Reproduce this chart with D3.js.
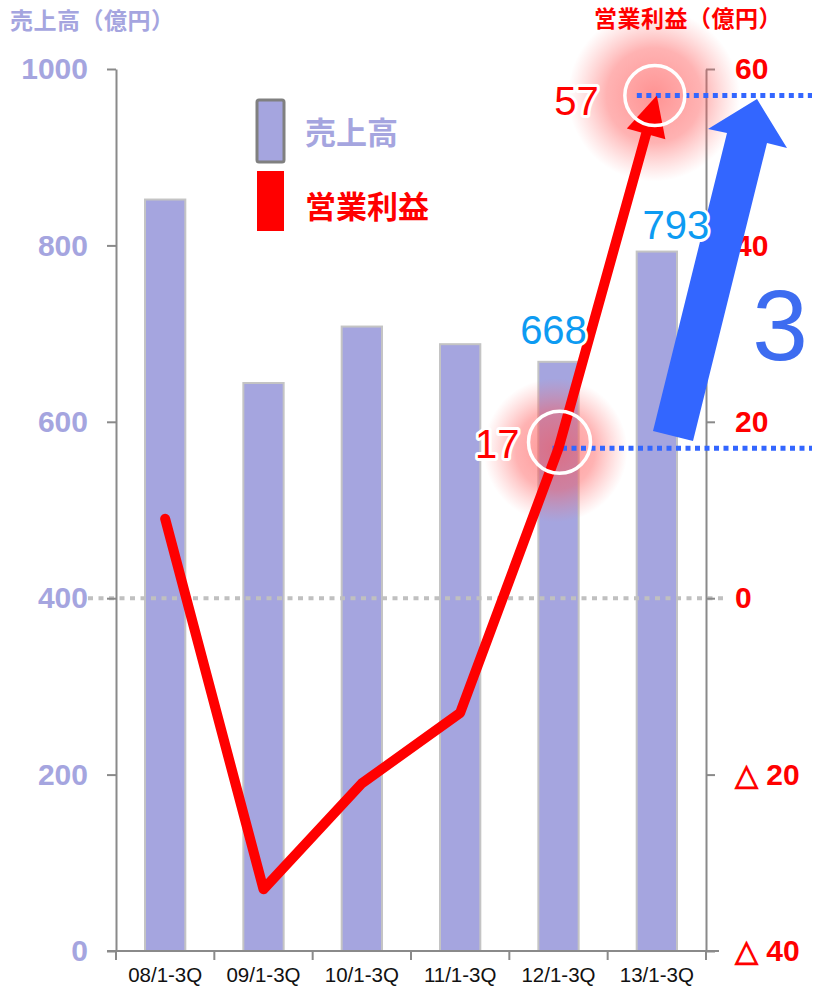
<!DOCTYPE html>
<html>
<head>
<meta charset="utf-8">
<script src="https://cdn.jsdelivr.net/npm/d3@7"></script>
<style>
  body { margin: 0; background: #fff; }
  svg { display: block; }
  .jp { font-family: "Noto Sans CJK JP", "Noto Sans", sans-serif; font-weight: 700; }
  .num { font-family: "Liberation Sans", Arial, sans-serif; }
</style>
</head>
<body>
<div id="chart"></div>
<script>
// data
var periods = ["08/1-3Q", "09/1-3Q", "10/1-3Q", "11/1-3Q", "12/1-3Q", "13/1-3Q"];
var sales = [852, 644, 708, 688, 668, 793];   // 売上高 (億円)
var profit = [9, -33, -21, -13, 17, 57];        // 営業利益 (億円)
var salesTicks = [0, 200, 400, 600, 800, 1000];
var profitTicks = [-40, -20, 0, 20, 40, 60];

var W = 815, H = 989;
var lavender = "#a5a5df", red = "#ff0000", blue = "#3366ff", skyblue = "#0d9bf2";

var svg = d3.select("#chart").append("svg").attr("width", W).attr("height", H);

var x = d3.scaleBand().domain(periods).range([116, 706]);
var yL = d3.scaleLinear().domain([0, 1000]).range([951, 69]);
var yR = d3.scaleLinear().domain([-40, 60]).range([951, 69]);
var barW = x.bandwidth() * 0.41;
var cx = function(p){ return x(p) + x.bandwidth() / 2; };

var defs = svg.append("defs");
var grad = defs.append("radialGradient").attr("id", "glow");
grad.append("stop").attr("offset", "0%").attr("stop-color", "#ff4a4a").attr("stop-opacity", 0.6);
grad.append("stop").attr("offset", "55%").attr("stop-color", "#ff5555").attr("stop-opacity", 0.45);
grad.append("stop").attr("offset", "100%").attr("stop-color", "#ff7070").attr("stop-opacity", 0);

// bars
svg.selectAll("rect.bar").data(sales).enter().append("rect")
  .attr("class", "bar")
  .attr("x", function(d, i){ return cx(periods[i]) - barW / 2; })
  .attr("y", function(d){ return yL(d); })
  .attr("width", barW)
  .attr("height", function(d){ return yL(0) - yL(d); })
  .attr("fill", lavender)
  .attr("stroke", "#c4c4c4")
  .attr("stroke-width", 2);

// zero line of profit axis (dotted grey)
svg.append("line")
  .attr("x1", 88).attr("x2", 728)
  .attr("y1", yR(0)).attr("y2", yR(0))
  .attr("stroke", "#c0c0c0").attr("stroke-width", 4)
  .attr("stroke-dasharray", "5 5.5");

// axes
var axL = svg.append("g").attr("transform", "translate(116,0)")
  .call(d3.axisLeft(yL).tickValues(salesTicks).tickSize(9).tickSizeOuter(0).tickPadding(19)
    .tickFormat(d3.format("d")));
axL.selectAll("text").attr("class", "num").style("font-size", "30px").style("font-weight", "700").attr("fill", lavender);

var axR = svg.append("g").attr("transform", "translate(706,0)")
  .call(d3.axisRight(yR).tickValues(profitTicks).tickSize(9).tickSizeOuter(0).tickPadding(20)
    .tickFormat(function(v){ return v < 0 ? "△ " + (-v) : v; }));
axR.selectAll("text").attr("class", "num").style("font-size", "30px").style("font-weight", "700").attr("fill", red);

var axB = svg.append("g").attr("transform", "translate(0,951)")
  .call(d3.axisBottom(x).tickSize(0).tickPadding(16));
axB.selectAll("text").attr("class", "num").style("font-size", "20.5px").attr("fill", "#111");
axB.select(".domain").remove();
svg.append("line").attr("x1", 107).attr("x2", 719).attr("y1", 951).attr("y2", 951)
  .attr("stroke", "#8a8a8a").attr("stroke-width", 2);
svg.selectAll("line.btick").data(periods.concat(["end"])).enter().append("line")
  .attr("class", "btick")
  .attr("x1", function(d, i){ return i < periods.length ? x(d) : x(periods[i - 1]) + x.bandwidth(); })
  .attr("x2", function(d, i){ return i < periods.length ? x(d) : x(periods[i - 1]) + x.bandwidth(); })
  .attr("y1", 951).attr("y2", 960)
  .attr("stroke", "#8a8a8a").attr("stroke-width", 2);

[axL, axR].forEach(function(a){
  a.selectAll(".domain").attr("stroke", "#8a8a8a").attr("stroke-width", 2);
  a.selectAll(".tick line").attr("stroke", "#8a8a8a").attr("stroke-width", 2);
});

// glows at 12 and 13
var glowPts = [[4, 72, 2], [5, 86, 0]];
svg.selectAll("circle.glow").data(glowPts).enter().append("circle")
  .attr("class", "glow")
  .attr("cx", function(d){ return cx(periods[d[0]]) - 3; })
  .attr("cy", function(d){ return yR(profit[d[0]]) + d[2]; })
  .attr("r", function(d){ return d[1]; })
  .attr("fill", "url(#glow)");

// blue dotted reference lines
svg.selectAll("line.ref").data([4, 5]).enter().append("line")
  .attr("class", "ref")
  .attr("x1", function(i){ return cx(periods[i]) - 6 + (i === 5 ? -14 : 0); })
  .attr("x2", 812)
  .attr("y1", function(i){ return yR(profit[i]); })
  .attr("y2", function(i){ return yR(profit[i]); })
  .attr("stroke", blue).attr("stroke-width", 5)
  .attr("stroke-dasharray", "5 4.5");

// profit line with arrow head at the end
var pts = profit.map(function(v, i){ return [cx(periods[i]), yR(v)]; });
var tip = pts[pts.length - 1], prev = pts[pts.length - 2];
var dx = tip[0] - prev[0], dy = tip[1] - prev[1], len = Math.sqrt(dx * dx + dy * dy);
var ux = dx / len, uy = dy / len;
var headL = 40, headW = 20;
var base = [tip[0] - ux * headL, tip[1] - uy * headL];
var linePts = pts.slice(0, -1).concat([[base[0] + ux * 4, base[1] + uy * 4]]);

svg.append("path")
  .attr("d", d3.line()(linePts))
  .attr("fill", "none").attr("stroke", red).attr("stroke-width", 10)
  .attr("stroke-linecap", "round").attr("stroke-linejoin", "round");
svg.append("path")
  .attr("d", "M" + tip + "L" + [base[0] - uy * headW, base[1] + ux * headW] +
             "L" + [base[0] + uy * headW, base[1] - ux * headW] + "Z")
  .attr("fill", red);

// white rings
svg.selectAll("circle.ring").data([4, 5]).enter().append("circle")
  .attr("class", "ring")
  .attr("cx", function(i){ return cx(periods[i]) + (i === 4 ? 1 : -2); })
  .attr("cy", function(i){ return yR(profit[i]) - (i === 4 ? 6 : 0); })
  .attr("r", function(i){ return i === 4 ? 31 : 30; })
  .attr("fill", "none").attr("stroke", "#fff").attr("stroke-width", 3.5);

// big blue arrow
var arrow = [[653, 431], [727, 133], [708, 129], [757, 99], [787, 148], [767, 143], [693, 441]];
svg.append("path").attr("d", d3.line()(arrow) + "Z").attr("fill", blue);

svg.append("text").attr("class", "num")
  .attr("x", 780).attr("y", 360)
  .attr("text-anchor", "middle")
  .style("font-size", "100px").attr("fill", "#3d6cf0")
  .text("3");

// value labels
function halo(sel){
  sel.attr("stroke", "#fff").attr("stroke-width", 6).attr("stroke-linejoin", "round")
    .style("paint-order", "stroke");
}
svg.append("text").attr("class", "num").attr("x", cx(periods[4]) - 39).attr("y", yR(profit[4]) + 10)
  .attr("text-anchor", "end").style("font-size", "40px").attr("fill", red)
  .text(profit[4]).call(halo);
svg.append("text").attr("class", "num").attr("x", cx(periods[5]) - 58).attr("y", yR(profit[5]) + 20)
  .attr("text-anchor", "end").style("font-size", "40px").attr("fill", red)
  .text(profit[5]).call(halo);
svg.append("text").attr("class", "num").attr("x", cx(periods[4]) - 5).attr("y", yL(sales[4]) - 18)
  .attr("text-anchor", "middle").style("font-size", "40px").attr("fill", skyblue)
  .text(sales[4]).call(halo);
svg.append("text").attr("class", "num").attr("x", cx(periods[5]) + 19).attr("y", yL(sales[5]) - 13)
  .attr("text-anchor", "middle").style("font-size", "40px").attr("fill", skyblue)
  .text(sales[5]).call(halo);

// axis titles
svg.append("text").attr("class", "jp").attr("x", 10).attr("y", 29)
  .style("font-size", "23px").style("letter-spacing", "0.5px").attr("fill", lavender).text("売上高（億円）");
svg.append("text").attr("class", "jp").attr("x", 594).attr("y", 27)
  .style("font-size", "23px").style("letter-spacing", "0.5px").attr("fill", red).text("営業利益（億円）");

// legend
svg.append("rect").attr("x", 257).attr("y", 100).attr("width", 27).attr("height", 62)
  .attr("rx", 2).attr("fill", lavender).attr("stroke", "#808080").attr("stroke-width", 3);
svg.append("rect").attr("x", 257).attr("y", 171).attr("width", 27).attr("height", 60)
  .attr("fill", red);
svg.append("text").attr("class", "jp").attr("x", 305).attr("y", 144)
  .style("font-size", "31px").attr("fill", lavender).text("売上高");
svg.append("text").attr("class", "jp").attr("x", 305).attr("y", 218)
  .style("font-size", "31px").attr("fill", red).text("営業利益");
</script>
</body>
</html>
